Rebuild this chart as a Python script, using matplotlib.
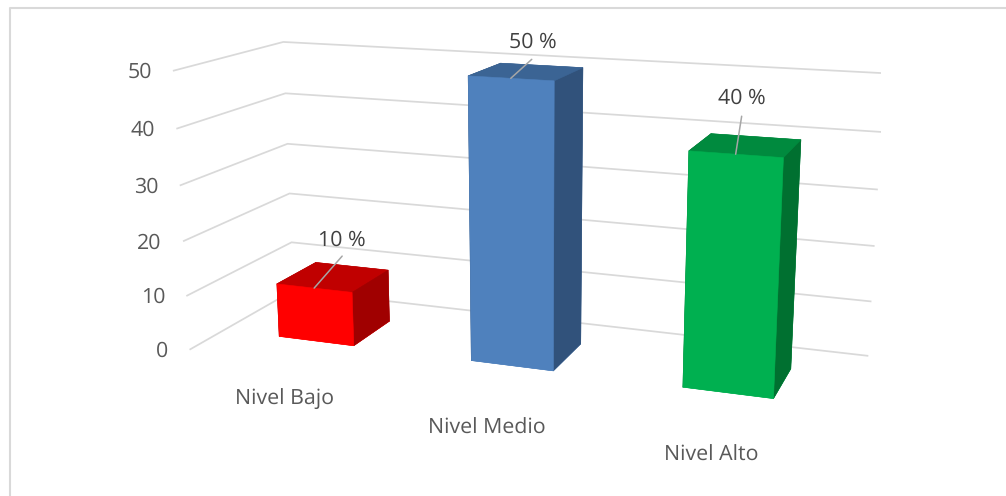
import numpy as np
import matplotlib
matplotlib.use('Agg')
import matplotlib.pyplot as plt
from mpl_toolkits.mplot3d import proj3d

plt.rcParams['font.family'] = ['Open Sans', 'DejaVu Sans']
plt.rcParams['text.hinting'] = 'none'

categories = ['Nivel Bajo', 'Nivel Medio', 'Nivel Alto']
values = [10, 50, 40]
value_labels = ['10 %', '50 %', '40 %']
z_ticks = [0, 10, 20, 30, 40, 50]

W, H = 1006, 496
fig = plt.figure(figsize=(W / 100, H / 100), dpi=100)

# camera fitted to the reference
S = 3943.15
tx, ty = 526.22, 215.50
side = S * 0.185
left = tx - 0.095 * S
bottom_from_top = ty + 0.095 * S
ax = fig.add_axes([left / W, (H - bottom_from_top) / H, side / W, side / H], projection='3d')
ax.computed_zorder = False
ax.set_xlim(0, 3)
ax.set_ylim(0, 1)
ax.set_zlim(0, 50)
ax.set_proj_type('persp', focal_length=0.3854)
ax.view_init(14.3202, -69.6828, 0.0907)
ax.set_box_aspect((1, 0.3328, 0.4399))
ax.set_axis_off()

half_w, y0, y1 = 0.1997, 0.3092, 0.7027

# frame
grid = '#D9D9D9'
fig.add_artist(plt.Line2D([9.5 / W, 9.5 / W, 1 + 2 / W], [-2 / H, 1 - 8 / H, 1 - 8 / H],
                          color=grid, lw=1.5, transform=fig.transFigure))

# gridlines on the two walls
for z in z_ticks:
    ax.plot([0, 0, 3], [0, 1, 1], [z, z, z], color=grid, lw=1.25, zorder=1, solid_joinstyle='miter')

# bars: faces are -Z, +Z, -Y, +Y, -X, +X
face_colors = [
    ('#FF0000', '#C00000', '#A00000'),
    ('#4F81BD', '#3B6494', '#31527B'),
    ('#00B050', '#008A3E', '#007030'),
]
for i, (v, (front, top, right)) in enumerate(zip(values, face_colors)):
    faces = [front, top, front, top, right, right]
    ax.bar3d(i + 0.5 - half_w, y0, 0, 2 * half_w, y1 - y0, v, shade=False,
             color=faces, edgecolor=faces, linewidth=0.4, zorder=2)

def to2d(x, y, z):
    px, py, _ = proj3d.proj_transform(x, y, z, ax.get_proj())
    return px, py

px_to_pt = 0.72
text_color = '#404040'
tick_color = '#595959'
font_size = 15.4

# value-axis labels
for z in z_ticks:
    ax.annotate(str(z), xy=to2d(0, 0, z), xytext=(-22 * px_to_pt, -2 * px_to_pt), textcoords='offset points',
                ha='right', va='center', fontsize=font_size, color=tick_color, annotation_clip=False)

# data labels with leader lines
leader_offset = [(28, 32), (21, 19), (6, 38)]
label_offset = [(28, 48), (22, 36), (6, 56)]
for i, (v, lab) in enumerate(zip(values, value_labels)):
    xy = to2d(i + 0.5, y0, v)
    dx, dy = leader_offset[i]
    ax.annotate('', xy=xy, xytext=(dx * px_to_pt, dy * px_to_pt), textcoords='offset points',
                annotation_clip=False, zorder=5,
                arrowprops=dict(arrowstyle='-', color='#A6A6A6', lw=1.1, shrinkA=0, shrinkB=0))
    dx, dy = label_offset[i]
    ax.annotate(lab, xy=xy, xytext=(dx * px_to_pt, dy * px_to_pt), textcoords='offset points',
                ha='center', va='center', fontsize=font_size, color=text_color, annotation_clip=False, zorder=5)

# category labels
cat_pos = [(285, 400), (487, 428), (711, 455)]
for lab, (x, y) in zip(categories, cat_pos):
    fig.text(x / W, 1 - y / H, lab, ha='center', va='center', fontsize=font_size, color=tick_color)

fig.savefig('out.png', dpi=100)
